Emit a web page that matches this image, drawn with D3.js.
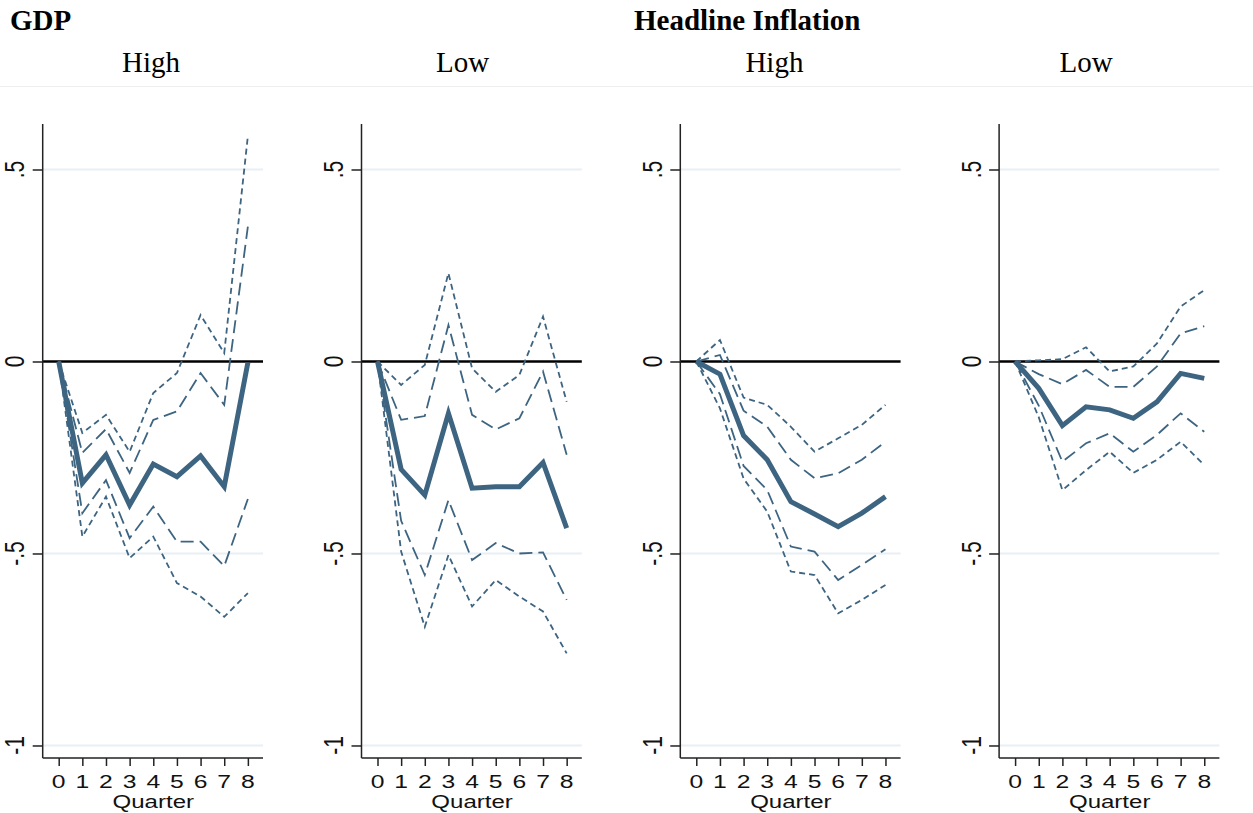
<html>
<script src="https://d3js.org/d3.v7.min.js"></script>
<body style="margin:0;background:#fff;">
<div id="chart"></div>
<script>
// quarters after the shock
const quarters = [0, 1, 2, 3, 4, 5, 6, 7, 8];
const yTicks = [0.5, 0, -0.5, -1];
const yTickLabels = [".5", "0", "-.5", "-1"];

// GDP, high regime
const gdpHighIrf  = [0, -0.317, -0.243, -0.374, -0.267, -0.300, -0.246, -0.326, -0.003];
const gdpHighHi68 = [0, -0.238, -0.176, -0.290, -0.152, -0.130, -0.030, -0.113, 0.351];
const gdpHighLo68 = [0, -0.395, -0.309, -0.460, -0.378, -0.469, -0.469, -0.533, -0.358];
const gdpHighHi90 = [0, -0.186, -0.139, -0.235, -0.082, -0.030, 0.121, 0.022, 0.587];
const gdpHighLo90 = [0, -0.456, -0.352, -0.512, -0.456, -0.577, -0.612, -0.665, -0.603];

// GDP, low regime
const gdpLowIrf  = [0, -0.281, -0.348, -0.135, -0.330, -0.326, -0.326, -0.263, -0.434];
const gdpLowHi68 = [0, -0.152, -0.142, 0.095, -0.139, -0.177, -0.148, -0.026, -0.243];
const gdpLowLo68 = [0, -0.415, -0.556, -0.361, -0.517, -0.473, -0.500, -0.497, -0.621];
const gdpLowHi90 = [0, -0.061, -0.009, 0.230, -0.018, -0.079, -0.035, 0.117, -0.105];
const gdpLowLo90 = [0, -0.495, -0.691, -0.504, -0.638, -0.569, -0.612, -0.651, -0.760];

// headline inflation, high regime
const infHighIrf  = [0, -0.033, -0.193, -0.256, -0.365, -0.397, -0.430, -0.395, -0.352];
const infHighHi68 = [0, 0.017, -0.128, -0.170, -0.256, -0.304, -0.291, -0.256, -0.209];
const infHighLo68 = [0, -0.085, -0.272, -0.335, -0.482, -0.495, -0.569, -0.530, -0.489];
const infHighHi90 = [0, 0.056, -0.094, -0.113, -0.170, -0.235, -0.200, -0.165, -0.113];
const infHighLo90 = [0, -0.122, -0.305, -0.391, -0.547, -0.556, -0.656, -0.621, -0.582];

// headline inflation, low regime
const infLowIrf  = [0, -0.070, -0.167, -0.118, -0.126, -0.148, -0.105, -0.031, -0.044];
const infLowHi68 = [0, -0.033, -0.059, -0.022, -0.066, -0.066, -0.013, 0.073, 0.092];
const infLowLo68 = [0, -0.115, -0.261, -0.213, -0.187, -0.235, -0.191, -0.135, -0.183];
const infLowHi90 = [0, 0.003, 0.006, 0.037, -0.026, -0.013, 0.047, 0.143, 0.186];
const infLowLo90 = [0, -0.145, -0.335, -0.283, -0.235, -0.290, -0.256, -0.209, -0.270];

const panelTitles = ["High", "Low", "High", "Low"];
const panels = [
    {irf: gdpHighIrf, hi68: gdpHighHi68, lo68: gdpHighLo68, hi90: gdpHighHi90, lo90: gdpHighLo90},
    {irf: gdpLowIrf,  hi68: gdpLowHi68,  lo68: gdpLowLo68,  hi90: gdpLowHi90,  lo90: gdpLowLo90},
    {irf: infHighIrf, hi68: infHighHi68, lo68: infHighLo68, hi90: infHighHi90, lo90: infHighLo90},
    {irf: infLowIrf,  hi68: infLowHi68,  lo68: infLowLo68,  hi90: infLowHi90,  lo90: infLowLo90}
];

const W = 1253, H = 813;
const lineCol = "#3d6480";
const stretch = 1.3;   // stata text came out wider than tall

let svg = d3.select("#chart").append("svg").attr("width", W).attr("height", H);

// headings
svg.append("text").text("GDP").attr("x", 10).attr("y", 30)
    .attr("font-family", "Liberation Serif").attr("font-weight", "bold").attr("font-size", 29);
svg.append("text").text("Headline Inflation").attr("x", 634).attr("y", 30)
    .attr("font-family", "Liberation Serif").attr("font-weight", "bold").attr("font-size", 29);
panelTitles.forEach((t, i) => {
    svg.append("text").text(t).attr("x", 151 + i * 311.7).attr("y", 72)
        .attr("text-anchor", "middle")
        .attr("font-family", "Liberation Serif").attr("font-size", 29);
});
svg.append("line").attr("x1", 0).attr("x2", W).attr("y1", 86.5).attr("y2", 86.5)
    .attr("stroke", "#eeeeee").attr("stroke-width", 1);

let y = d3.scaleLinear().domain([-1.0326, 0.6185]).range([758, 124]);

panels.forEach((p, i) => {
    let left = 42.7 + i * 318.8;
    let right = left + 220.3;
    let x = d3.scaleLinear().domain([-0.6765, 8.64]).range([left, right]);
    let g = svg.append("g");

    // grid lines
    g.selectAll(".grid").data([0.5, -0.5, -1]).enter().append("line")
        .attr("x1", left).attr("x2", right)
        .attr("y1", d => y(d)).attr("y2", d => y(d))
        .attr("stroke", "#e9eff3").attr("stroke-width", 2);

    // zero line
    g.append("line").attr("x1", left).attr("x2", right)
        .attr("y1", y(0)).attr("y2", y(0))
        .attr("stroke", "#000").attr("stroke-width", 2.7);

    // y axis
    let yAxis = d3.axisLeft(y).tickValues(yTicks).tickSize(10).tickFormat("");
    let ya = g.append("g").attr("transform", `translate(${left},0)`).call(yAxis);
    ya.select(".domain").remove();
    ya.selectAll(".tick line").attr("stroke", "#222").attr("stroke-width", 1.5);
    g.append("line").attr("x1", left).attr("x2", left).attr("y1", 124).attr("y2", 758)
        .attr("stroke", "#222").attr("stroke-width", 1.5);
    yTicks.forEach((v, k) => {
        g.append("text").text(yTickLabels[k])
            .attr("transform", `translate(${left - 18.5},${y(v)}) scale(${stretch},1) rotate(-90)`)
            .attr("text-anchor", "middle")
            .attr("font-family", "Liberation Sans").attr("font-size", 21)
            .attr("fill", "#111");
    });

    // x axis
    let xAxis = d3.axisBottom(x).tickValues(quarters).tickSize(8).tickFormat("");
    let xa = g.append("g").attr("transform", "translate(0,758)").call(xAxis);
    xa.select(".domain").remove();
    xa.selectAll(".tick line").attr("stroke", "#222").attr("stroke-width", 1.5);
    g.append("line").attr("x1", left).attr("x2", right).attr("y1", 758).attr("y2", 758)
        .attr("stroke", "#222").attr("stroke-width", 1.5);
    quarters.forEach(q => {
        g.append("text").text(q)
            .attr("transform", `translate(${x(q)},788) scale(${stretch},1)`)
            .attr("text-anchor", "middle")
            .attr("font-family", "Liberation Sans").attr("font-size", 19)
            .attr("fill", "#111");
    });
    g.append("text").text("Quarter")
        .attr("transform", `translate(${x(4)},808) scale(${stretch},1)`)
        .attr("text-anchor", "middle")
        .attr("font-family", "Liberation Sans").attr("font-size", 18.5)
        .attr("fill", "#111");

    let line = d3.line().x((d, k) => x(quarters[k])).y(d => y(d));

    // bands: short dash = outer, long dash = inner
    [p.hi90, p.lo90].forEach(s => {
        g.append("path").attr("d", line(s)).attr("fill", "none")
            .attr("stroke", lineCol).attr("stroke-width", 1.8)
            .attr("stroke-dasharray", "6,4");
    });
    [p.hi68, p.lo68].forEach(s => {
        g.append("path").attr("d", line(s)).attr("fill", "none")
            .attr("stroke", lineCol).attr("stroke-width", 1.8)
            .attr("stroke-dasharray", "13,6");
    });
    g.append("path").attr("d", line(p.irf)).attr("fill", "none")
        .attr("stroke", lineCol).attr("stroke-width", 5)
        .attr("stroke-linejoin", "miter");
});
</script>
</body>
</html>
